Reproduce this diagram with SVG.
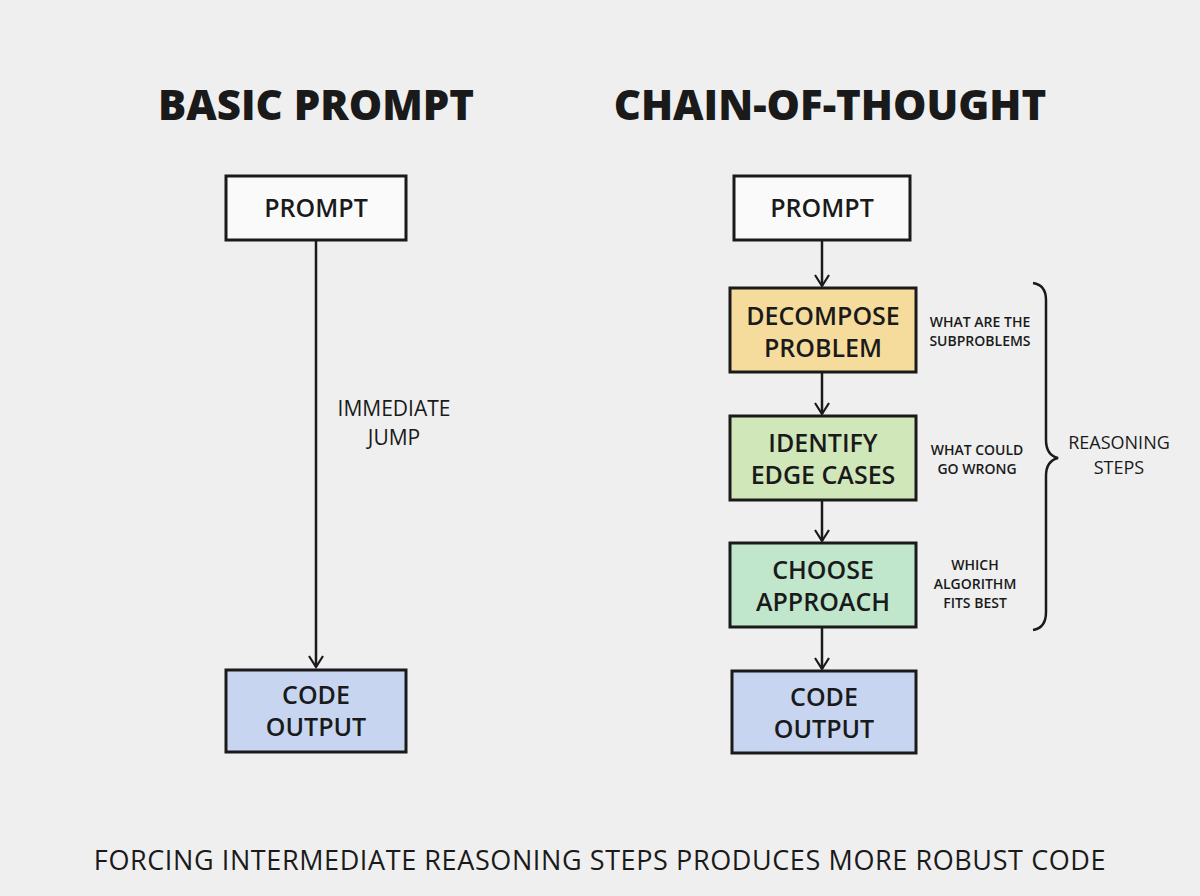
<svg xmlns="http://www.w3.org/2000/svg" width="1200" height="896" viewBox="0 0 1200 896">
<defs>
<marker id="ah" viewBox="0 0 16 16" refX="14" refY="8" markerWidth="16" markerHeight="16" markerUnits="userSpaceOnUse" orient="auto">
<path d="M3,1 L14,8 L3,15" fill="none" stroke="#1a1a1a" stroke-width="2.2"/>
</marker>
<style>
.box{stroke:#1a1a1a;stroke-width:3;}
.t{font-family:"Open Sans","Liberation Sans",sans-serif;fill:#1a1a1a;text-anchor:middle;}
.nt{font-size:25px;font-weight:600;}
.sm{font-size:14px;font-weight:600;}
.ttl{font-size:42px;font-weight:800;}
.ln{stroke:#1a1a1a;stroke-width:2.5;fill:none;}
</style>
</defs>
<rect width="1200" height="896" fill="#efefef"/>
<text class="t ttl" x="316" y="120">BASIC PROMPT</text>
<text class="t ttl" x="830" y="120">CHAIN-OF-THOUGHT</text>
<g id="connectors">
<line class="ln" x1="316" y1="240" x2="316" y2="667" marker-end="url(#ah)"/>
<line class="ln" x1="822" y1="240" x2="822" y2="286" marker-end="url(#ah)"/>
<line class="ln" x1="822" y1="372" x2="822" y2="414" marker-end="url(#ah)"/>
<line class="ln" x1="822" y1="500" x2="822" y2="541" marker-end="url(#ah)"/>
<line class="ln" x1="822" y1="627" x2="822" y2="669" marker-end="url(#ah)"/>
<text class="t" x="394" y="416" font-size="21" font-weight="500">IMMEDIATE</text>
<text class="t" x="394" y="445" font-size="21" font-weight="500">JUMP</text>
</g>
<g id="left-prompt"><rect class="box" x="226" y="176" width="180" height="64" fill="#fafafa"/><text class="t nt" x="316" y="217" font-size="24">PROMPT</text></g>
<g id="left-output"><rect class="box" x="226" y="670" width="180" height="82" fill="#c7d5f0"/><text class="t nt" x="316" y="704">CODE</text><text class="t nt" x="316" y="736">OUTPUT</text></g>
<g id="right-prompt"><rect class="box" x="734" y="176" width="176" height="64" fill="#fafafa"/><text class="t nt" x="822" y="217" font-size="24">PROMPT</text></g>
<g id="decompose"><rect class="box" x="730" y="288" width="186" height="84" fill="#f5dc9c"/><text class="t nt" x="823" y="325">DECOMPOSE</text><text class="t nt" x="823" y="357">PROBLEM</text>
<text class="t sm" x="980" y="327">WHAT ARE THE</text><text class="t sm" x="980" y="346">SUBPROBLEMS</text></g>
<g id="identify"><rect class="box" x="730" y="416" width="186" height="84" fill="#d0e7ba"/><text class="t nt" x="823" y="452">IDENTIFY</text><text class="t nt" x="823" y="484">EDGE CASES</text>
<text class="t sm" x="977" y="455">WHAT COULD</text><text class="t sm" x="977" y="474">GO WRONG</text></g>
<g id="choose"><rect class="box" x="730" y="543" width="186" height="84" fill="#c0e6cc"/><text class="t nt" x="823" y="579">CHOOSE</text><text class="t nt" x="823" y="611">APPROACH</text>
<text class="t sm" x="975" y="570">WHICH</text><text class="t sm" x="975" y="589">ALGORITHM</text><text class="t sm" x="975" y="608">FITS BEST</text></g>
<g id="right-output"><rect class="box" x="732" y="671" width="184" height="82" fill="#c7d5f0"/><text class="t nt" x="824" y="706">CODE</text><text class="t nt" x="824" y="738">OUTPUT</text></g>
<g id="brace">
<path class="ln" d="M1033,283 Q1046,285 1046,300 L1046,440 Q1046,455 1058,458 Q1046,461 1046,476 L1046,612 Q1046,628 1033,630"/>
<text class="t" x="1119" y="449" font-size="18" font-weight="500">REASONING</text>
<text class="t" x="1119" y="474" font-size="18" font-weight="500">STEPS</text>
</g>
<text class="t" x="600" y="870" font-size="27" font-weight="500" letter-spacing="0.6">FORCING INTERMEDIATE REASONING STEPS PRODUCES MORE ROBUST CODE</text>
</svg>
